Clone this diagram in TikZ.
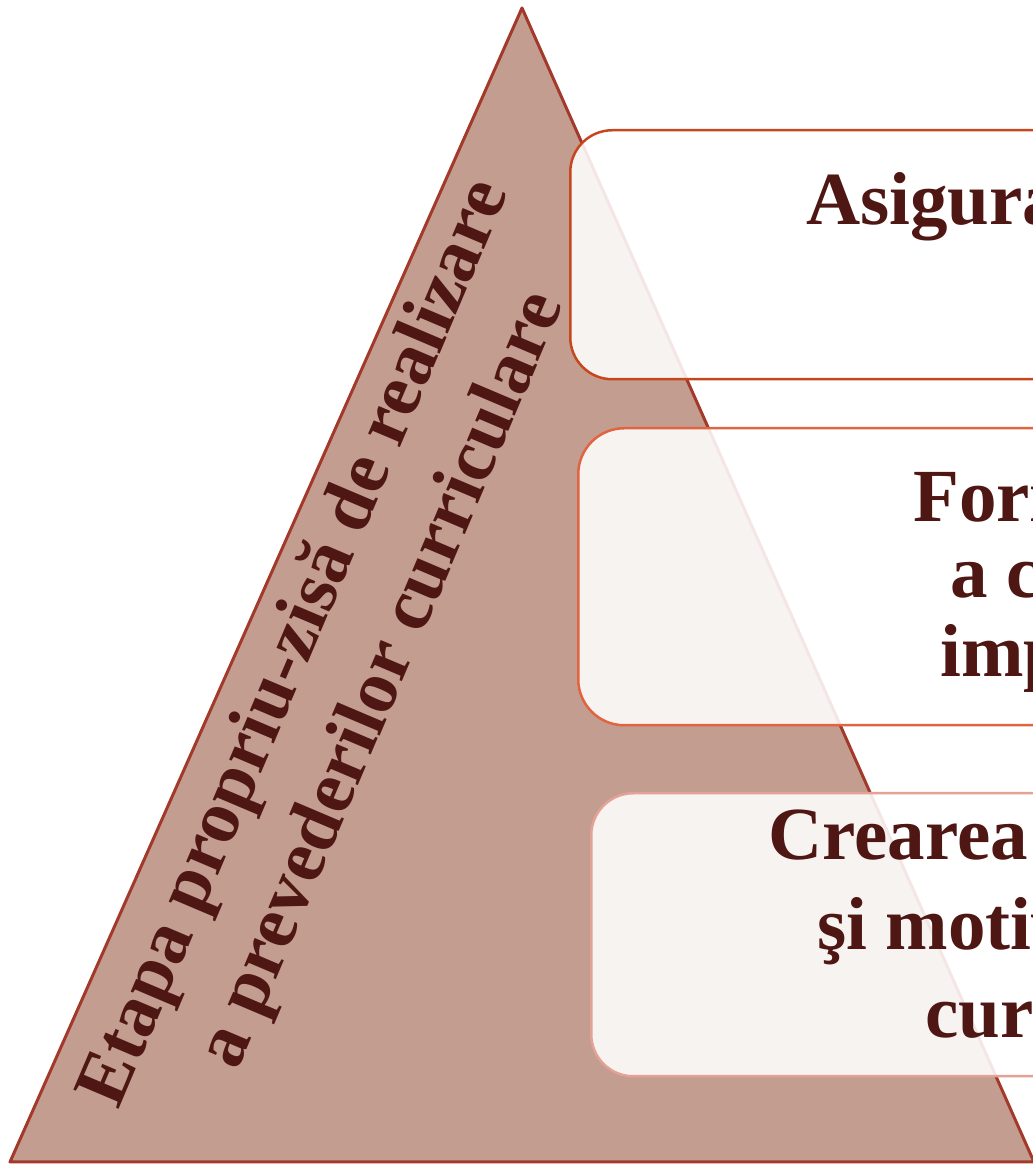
\documentclass[tikz,border=0pt]{standalone}
\usepackage{fontspec}
\setmainfont{Liberation Serif}
\usetikzlibrary{positioning}

\definecolor{pyrfill}{HTML}{C49D91}
\definecolor{pyrline}{HTML}{A3392A}
\definecolor{textbrown}{HTML}{4F1713}
\definecolor{boxone}{HTML}{C4471E}
\definecolor{boxtwo}{HTML}{E0643F}
\definecolor{boxthree}{HTML}{E4A195}

\tikzset{
  stagebox/.style={draw, line width=2.5pt, rounded corners=42pt, fill=white, fill opacity=0.88, anchor=north west, inner sep=0pt},
  boxtext/.style={text=textbrown, font=\fontsize{75}{77}\selectfont\bfseries, anchor=base west, inner sep=0pt},
}

\begin{document}
\begin{tikzpicture}[x=1pt,y=1pt]
    \useasboundingbox (0,0) rectangle (1033,1165);
    \clip (0,0) rectangle (1033,1165);

    % pyramid
    \coordinate (baseleft) at (10,3);
    \coordinate (baseright) at (1034,3);
    \coordinate (apex) at (522,1157);
    \draw[pyrline, fill=pyrfill, line width=3pt, line join=round] (baseleft) -- (apex) -- (baseright) -- cycle;
    \node[text=textbrown, font=\fontsize{75}{94}\selectfont\bfseries, align=center, rotate=67, inner sep=0pt] (etapa) at (340,503) {Etapa propriu-zisă de realizare\\a prevederilor curriculare};

    % stages
    \node[stagebox, draw=boxone, minimum width=700pt, minimum height=249pt] (asigbox) at (569,1036) {};
    \node[stagebox, draw=boxtwo, minimum width=700pt, minimum height=297pt, rounded corners=46pt] (formbox) at (577,738) {};
    \node[stagebox, draw=boxthree, minimum width=700pt, minimum height=283pt] (creabox) at (590,373) {};

    \node[boxtext] (asigone) at (806,940) {Asigura};

    \node[boxtext] (formone) at (913,643) {Form};
    \node[boxtext] (formtwo) at (950,567) {a c};
    \node[boxtext] (formthree) at (940,488) {imp};

    \node[boxtext] (creaone) at (768,305) {Crearea};
    \node[boxtext] (creatwo) at (817,215) {şi motiv};
    \node[boxtext] (creathree) at (925,127) {cur};
\end{tikzpicture}
\end{document}
